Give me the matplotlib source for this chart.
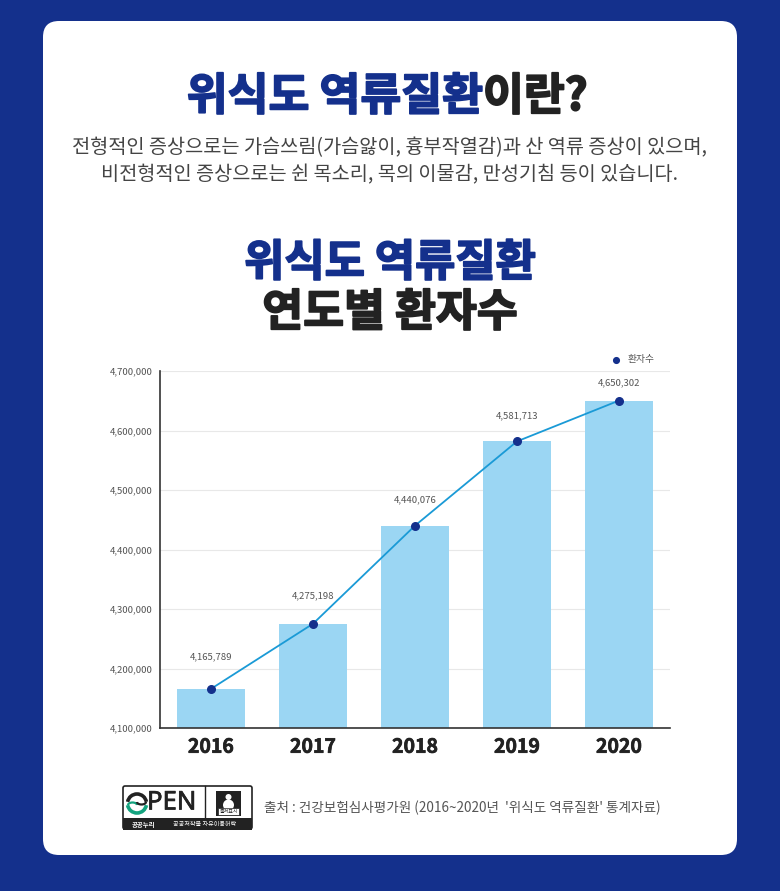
import numpy as np
import matplotlib
matplotlib.use('Agg')
import matplotlib.pyplot as plt
import matplotlib.patheffects as pe
from matplotlib.patches import FancyBboxPatch, Rectangle, Circle, Ellipse, Arc

plt.rcParams['font.family'] = ['Noto Sans CJK KR', 'DejaVu Sans']

W, H = 780, 894
NAVY = '#14308c'
DARK = '#222222'
GREY = '#555555'

years = ['2016', '2017', '2018', '2019', '2020']
patients = [4165789, 4275198, 4440076, 4581713, 4650302]
y_ticks = [4100000, 4200000, 4300000, 4400000, 4500000, 4600000, 4700000]
label_offsets = [32, 28, 26, 26, 18]  # px above the point


def px_axes(x0, y0, x1, y1):
    # axes rectangle given in picture pixels, y from the top
    return fig.add_axes([x0 / W, 1 - y1 / H, (x1 - x0) / W, (y1 - y0) / H])


def heading(x, y, s, color, size, ha='center'):
    # the reference face is heavier than Noto Black, so thicken with a stroke
    t = bg.text(x, y, s, color=color, fontsize=size, fontweight='black', ha=ha, va='center')
    t.set_path_effects([pe.withStroke(linewidth=1.3, foreground=color)])


fig = plt.figure(figsize=(W / 100, H / 100), dpi=100, facecolor='white')

# background, card, headings
bg = fig.add_axes([0, 0, 1, 1])
bg.set_xlim(0, W)
bg.set_ylim(H, 0)
bg.axis('off')
bg.add_patch(Rectangle((0, 0), W, 891, color=NAVY, lw=0))
bg.add_patch(FancyBboxPatch((43, 21), 694, 834, boxstyle='round,pad=0,rounding_size=16',
                            fc='white', ec='none'))

heading(483, 97, '위식도 역류질환', NAVY, 32, ha='right')
heading(483, 97, '이란?', DARK, 32, ha='left')
bg.text(390, 148, '전형적인 증상으로는 가슴쓰림(가슴앓이, 흉부작열감)과 산 역류 증상이 있으며,',
        color='#444444', fontsize=14.2, fontweight='light', ha='center', va='center')
bg.text(390, 175, '비전형적인 증상으로는 쉰 목소리, 목의 이물감, 만성기침 등이 있습니다.',
        color='#444444', fontsize=14.2, fontweight='light', ha='center', va='center')
heading(390, 263, '위식도 역류질환', NAVY, 31.5)
heading(390, 313, '연도별 환자수', DARK, 32)

# chart
ax = px_axes(160, 371, 670, 728)
x = np.arange(len(years))
ax.bar(x, patients, width=0.66, color='#9bd6f3', zorder=2)
ax.plot(x, patients, color='#1a9ad6', lw=1.3, zorder=3)
ax.scatter(x, patients, s=30, color=NAVY, zorder=4, label='환자수')
for xi, val, off in zip(x, patients, label_offsets):
    ax.annotate(f'{val:,}', (xi, val), xytext=(0, off * 0.72), textcoords='offset points',
                ha='center', va='center', fontsize=6.9, color=GREY, fontweight='light')

ax.set_xlim(-0.5, 4.5)
ax.set_ylim(4100000, 4700000)
ax.set_xticks(x, years)
ax.set_yticks(y_ticks, [f'{v:,}' for v in y_ticks])
ax.grid(axis='y', color='#e8e8e8', lw=0.8, zorder=0)
ax.set_axisbelow(True)
ax.tick_params(axis='x', length=0, pad=7, labelsize=14, labelcolor=DARK)
for lab in ax.get_xticklabels():
    lab.set_fontweight('black')
    lab.set_path_effects([pe.withStroke(linewidth=0.5, foreground=DARK)])
ax.tick_params(axis='y', length=0, pad=5, labelsize=6.9, labelcolor=GREY)
for lab in ax.get_yticklabels():
    lab.set_fontweight('light')
for side in ['top', 'right']:
    ax.spines[side].set_visible(False)
for side in ['left', 'bottom']:
    ax.spines[side].set_color('#333333')
    ax.spines[side].set_linewidth(1.2)
ax.legend(loc='upper right', bbox_to_anchor=(0.98, 1.06), frameon=False, fontsize=7,
          markerscale=0.75, handletextpad=0.2, labelcolor=GREY, borderpad=0)

# open licence mark
bg.add_patch(FancyBboxPatch((123, 786), 129, 43, boxstyle='round,pad=0,rounding_size=2',
                            fc='white', ec='#222222', lw=1.2))
bg.add_patch(Rectangle((123, 818), 129, 12, color='#222222', lw=0))
bg.plot([205, 205], [786, 818], color='#222222', lw=1)
bg.add_patch(Arc((137, 803.5), 19, 19, theta1=190, theta2=350, color='#222222', lw=2.6))
bg.add_patch(Arc((137, 803.5), 19, 19, theta1=10, theta2=170, color='#14a37f', lw=2.6))
bg.add_patch(Arc((132.5, 805), 9, 5, theta1=180, theta2=360, color='#14a37f', lw=1.6))
bg.add_patch(Arc((141.5, 802), 9, 5, theta1=0, theta2=180, color='#222222', lw=1.6))
pen = bg.text(147, 803, 'PEN', color='#222222', fontsize=18.5, family='Noto Sans', va='center', ha='left')
pen.set_path_effects([pe.withStroke(linewidth=0.5, foreground='#222222')])
bg.add_patch(Rectangle((216, 791), 25, 25, color='#222222', lw=0))
bg.add_patch(Circle((228.5, 797), 3, color='white', lw=0))
bg.add_patch(Ellipse((228.5, 805), 11, 11, color='white', lw=0))
bg.add_patch(Rectangle((218, 808), 21, 7, fc='white', ec='#222222', lw=0.5))
bg.text(228.5, 811.5, '출처표시', color='#222222', fontsize=3.6, ha='center', va='center')
bg.text(144, 824, '공공누리', color='white', fontsize=4.6, fontweight='bold', ha='center', va='center')
bg.text(205, 824, '공공저작물 자유이용허락', color='white', fontsize=4.4, ha='center', va='center')

bg.text(264, 808, "출처 : 건강보험심사평가원 (2016~2020년  '위식도 역류질환' 통계자료)",
        color='#555555', fontsize=9.8, fontweight='light', ha='left', va='center')

fig.savefig('out.png', dpi=100, facecolor='white')
